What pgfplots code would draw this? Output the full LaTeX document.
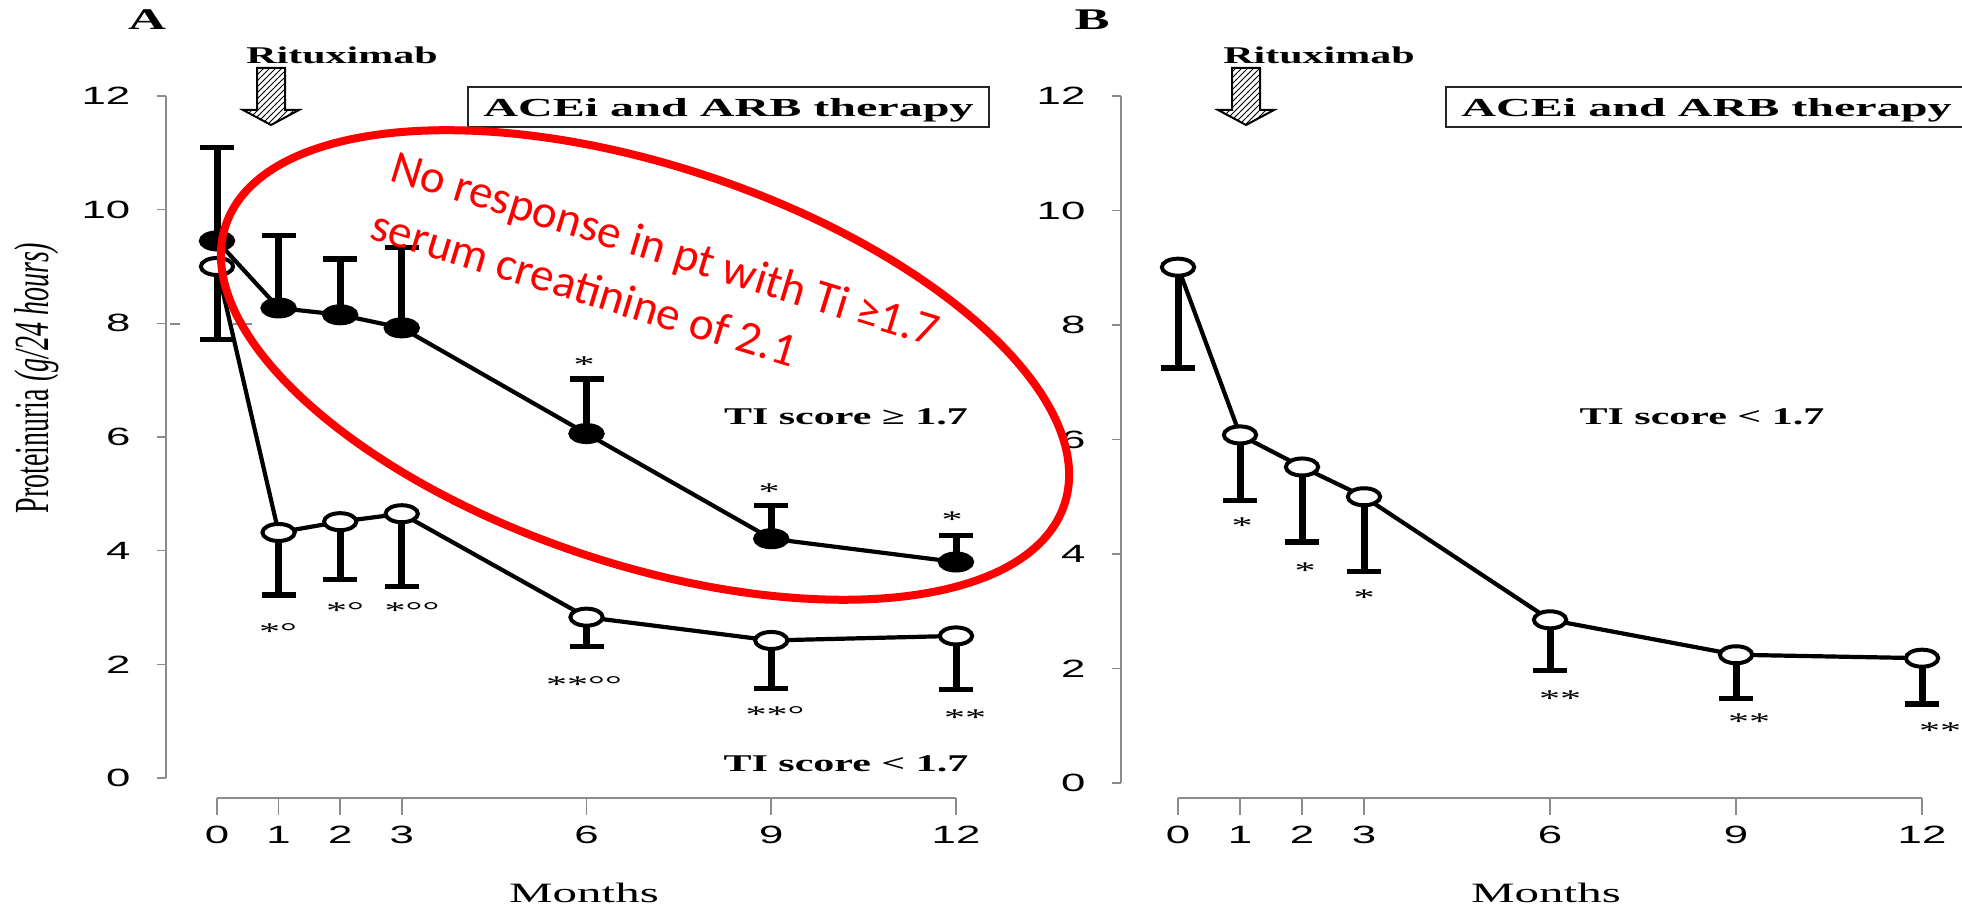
\documentclass[border=0pt]{standalone}
\usepackage{pgfplots}
\pgfplotsset{compat=1.18}
\usepackage{pgfplotstable}
\usepackage{graphicx}
\usepackage{fontspec}
\setmainfont{Liberation Serif}
\setsansfont{Liberation Sans}
\newfontfamily\calib{Carlito}
\usetikzlibrary{patterns}
\newcommand{\sx}[1]{\scalebox{1.75}[1]{#1}}
\newcommand{\sxx}[2]{\scalebox{#1}[1]{#2}}
\definecolor{axgray}{RGB}{140,140,140}

\pgfplotstableread{
x y e
0 9.45 1.65
1 8.27 1.28
2 8.15 0.98
3 7.92 1.42
6 6.06 0.96
9 4.21 0.58
12 3.80 0.46
}\Ahigh
\pgfplotstableread{
x y e
0 9.00 1.28
1 4.32 1.10
2 4.51 1.02
3 4.65 1.28
6 2.83 0.52
9 2.42 0.85
12 2.50 0.95
}\Alow
\pgfplotstableread{
x y e
0 9.01 1.76
1 6.08 1.14
2 5.52 1.31
3 5.00 1.30
6 2.85 0.88
9 2.24 0.76
12 2.18 0.80
}\Blow

\pgfplotsset{
  dataaxis/.style={scale only axis, xmin=0, xmax=12, ymin=0, ymax=12, hide axis, clip=false, anchor=south west},
  ser/.style={black, line width=2.1pt, mark=*, mark size=4.25pt},
  caps/.style={only marks, mark=-, mark size=8.5pt, mark options={line width=2.6pt, black}},
  yonly/.style={scale only axis, anchor=south west, width=20pt, xmin=0, xmax=1, ymin=0, ymax=12,
    axis x line=none, axis y line*=left, ytick={0,2,4,6,8,10,12},
    yticklabels={\sx{0},\sx{2},\sx{4},\sx{6},\sx{8},\sx{10},\sx{12}},
    tick align=outside, major tick length=4.5pt,
    y axis line style={axgray, line width=0.8pt}, ytick style={axgray, line width=0.8pt},
    yticklabel style={font=\sffamily\fontsize{12.5}{14}\selectfont, xshift=-9.8pt}},
  xonly/.style={scale only axis, anchor=south west, height=10pt, xmin=0, xmax=12, ymin=0, ymax=1,
    axis y line=none, axis x line*=bottom, xtick={0,1,2,3,6,9,12},
    xticklabels={\sx{0},\sx{1},\sx{2},\sx{3},\sx{6},\sx{9},\sx{12}},
    tick align=outside, major tick length=8.5pt,
    x axis line style={axgray, line width=0.8pt}, xtick style={axgray, line width=0.8pt},
    xticklabel style={font=\sffamily\fontsize{12.5}{14}\selectfont, yshift=-2.2pt}},
}

\begin{document}
\begin{tikzpicture}[x=0.5pt, y=0.5pt]
\path[use as bounding box] (0,0) rectangle (1962,908);
\fill[white] (0,0) rectangle (1962,908);

% ---------------- Panel A ----------------
\begin{axis}[yonly, at={(83pt,65pt)}, height=341pt]
\end{axis}
\begin{axis}[xonly, at={(108.5pt,55pt)}, width=369.5pt]
\end{axis}
\draw[axgray, line width=0.8pt] (170,584) -- (180,584);
\draw[axgray, line width=0.8pt] (233,584) -- (252,584);
\begin{axis}[dataaxis, at={(108.5pt,65pt)}, width=369.5pt, height=341pt]
  \addplot[caps] table[x=x, y expr=\thisrow{y}+\thisrow{e}] {\Ahigh};
  \addplot[caps] table[x=x, y expr=\thisrow{y}-\thisrow{e}] {\Alow};
  \addplot[ser, mark options={xscale=1.9, fill=black, draw=black, line width=2pt},
    error bars/.cd, y dir=plus, y explicit, error mark=none,
    error bar style={line width=3.5pt, black}]
    table[x=x, y=y, y error=e] {\Ahigh};
  \addplot[ser, mark options={xscale=1.9, fill=white, draw=black, line width=2pt},
    error bars/.cd, y dir=minus, y explicit, error mark=none,
    error bar style={line width=3.5pt, black}]
    table[x=x, y=y, y error=e] {\Alow};
\end{axis}

% ---------------- Panel B ----------------
\begin{axis}[yonly, at={(560.5pt,62.5pt)}, height=343.5pt]
\end{axis}
\begin{axis}[xonly, at={(589pt,55pt)}, width=372pt]
\end{axis}
\begin{axis}[dataaxis, at={(589pt,62.5pt)}, width=372pt, height=343.5pt]
  \addplot[caps] table[x=x, y expr=\thisrow{y}-\thisrow{e}] {\Blow};
  \addplot[ser, mark options={xscale=1.9, fill=white, draw=black, line width=2pt},
    error bars/.cd, y dir=minus, y explicit, error mark=none,
    error bar style={line width=3.5pt, black}]
    table[x=x, y=y, y error=e] {\Blow};
\end{axis}

% ---------------- Text & decorations ----------------
\node[anchor=base, font=\bfseries\fontsize{15}{17}\selectfont] at (147,878) {\sx{A}};
\node[anchor=base, font=\bfseries\fontsize{15}{17}\selectfont] at (1092,878) {\sx{B}};

\node[anchor=base, font=\bfseries\fontsize{12}{14}\selectfont] at (342,844) {\sx{Rituximab}};
\node[anchor=base, font=\bfseries\fontsize{12}{14}\selectfont] at (1319,844) {\sx{Rituximab}};

\draw[line width=1pt, pattern=north east lines]
  (257,840) -- (285,840) -- (285,798) -- (299,798) -- (271,783) -- (243,798) -- (257,798) -- cycle;
\draw[line width=1pt, pattern=north east lines]
  (1232,840) -- (1260,840) -- (1260,798) -- (1274,798) -- (1246,783) -- (1218,798) -- (1232,798) -- cycle;

\draw[line width=1.2pt, black!85] (468,781) rectangle (989,821);
\node[anchor=base, font=\bfseries\fontsize{13}{15}\selectfont] at (728.5,791) {\sxx{1.85}{ACEi and ARB therapy}};
\draw[line width=1.2pt, black!85] (1446,781) rectangle (1980,821);
\node[anchor=base, font=\bfseries\fontsize{13}{15}\selectfont] at (1706.5,791) {\sxx{1.85}{ACEi and ARB therapy}};

\node[anchor=base, font=\bfseries\fontsize{12}{14}\selectfont] at (846,483) {\sx{TI score ≥ 1.7}};
\node[anchor=base, font=\bfseries\fontsize{12}{14}\selectfont] at (846,136) {\sx{TI score < 1.7}};
\node[anchor=base, font=\bfseries\fontsize{12}{14}\selectfont] at (1702,483) {\sx{TI score < 1.7}};

\node[anchor=base, font=\fontsize{14}{16}\selectfont] at (584,5) {\sx{Months}};
\node[anchor=base, font=\fontsize{14}{16}\selectfont] at (1546,5) {\sx{Months}};

\node[rotate=90, font=\fontsize{14}{16}\selectfont] at (37,530)
  {\scalebox{1}[1.75]{Proteinuria \textit{(g/24 hours)}}};

% significance marks, panel A
\begin{scope}[every node/.style={anchor=base, font=\fontsize{12}{14}\selectfont}]
\node at (278,268) {\sx{*°}};
\node at (345,289) {\sx{*°}};
\node at (412,289) {\sx{*°°}};
\node at (584,215) {\sx{**°°}};
\node at (775,185) {\sx{**°}};
\node at (965,182) {\sx{**}};
\node at (584,535) {\sx{*}};
\node at (769,408) {\sx{*}};
\node at (952,380) {\sx{*}};
% panel B
\node at (1242,374) {\sx{*}};
\node at (1305,329) {\sx{*}};
\node at (1364,302) {\sx{*}};
\node at (1560,201) {\sx{**}};
\node at (1749,178) {\sx{**}};
\node at (1940,169) {\sx{**}};
\end{scope}

% red annotation
\draw[red, line width=4pt, rotate around={-18.4:(645,543)}] (645,543) ellipse [x radius=221pt, y radius=99.5pt];
\node[anchor=base west, rotate=-17, text=red, inner sep=0pt, font=\calib\fontsize{23.5}{28}\selectfont]
  at (388,728) {No response in pt with Ti ≥1.7};
\node[anchor=base west, rotate=-17, text=red, inner sep=0pt, font=\calib\fontsize{23.5}{28}\selectfont]
  at (368,670) {serum creatinine of 2.1};
\end{tikzpicture}
\end{document}
